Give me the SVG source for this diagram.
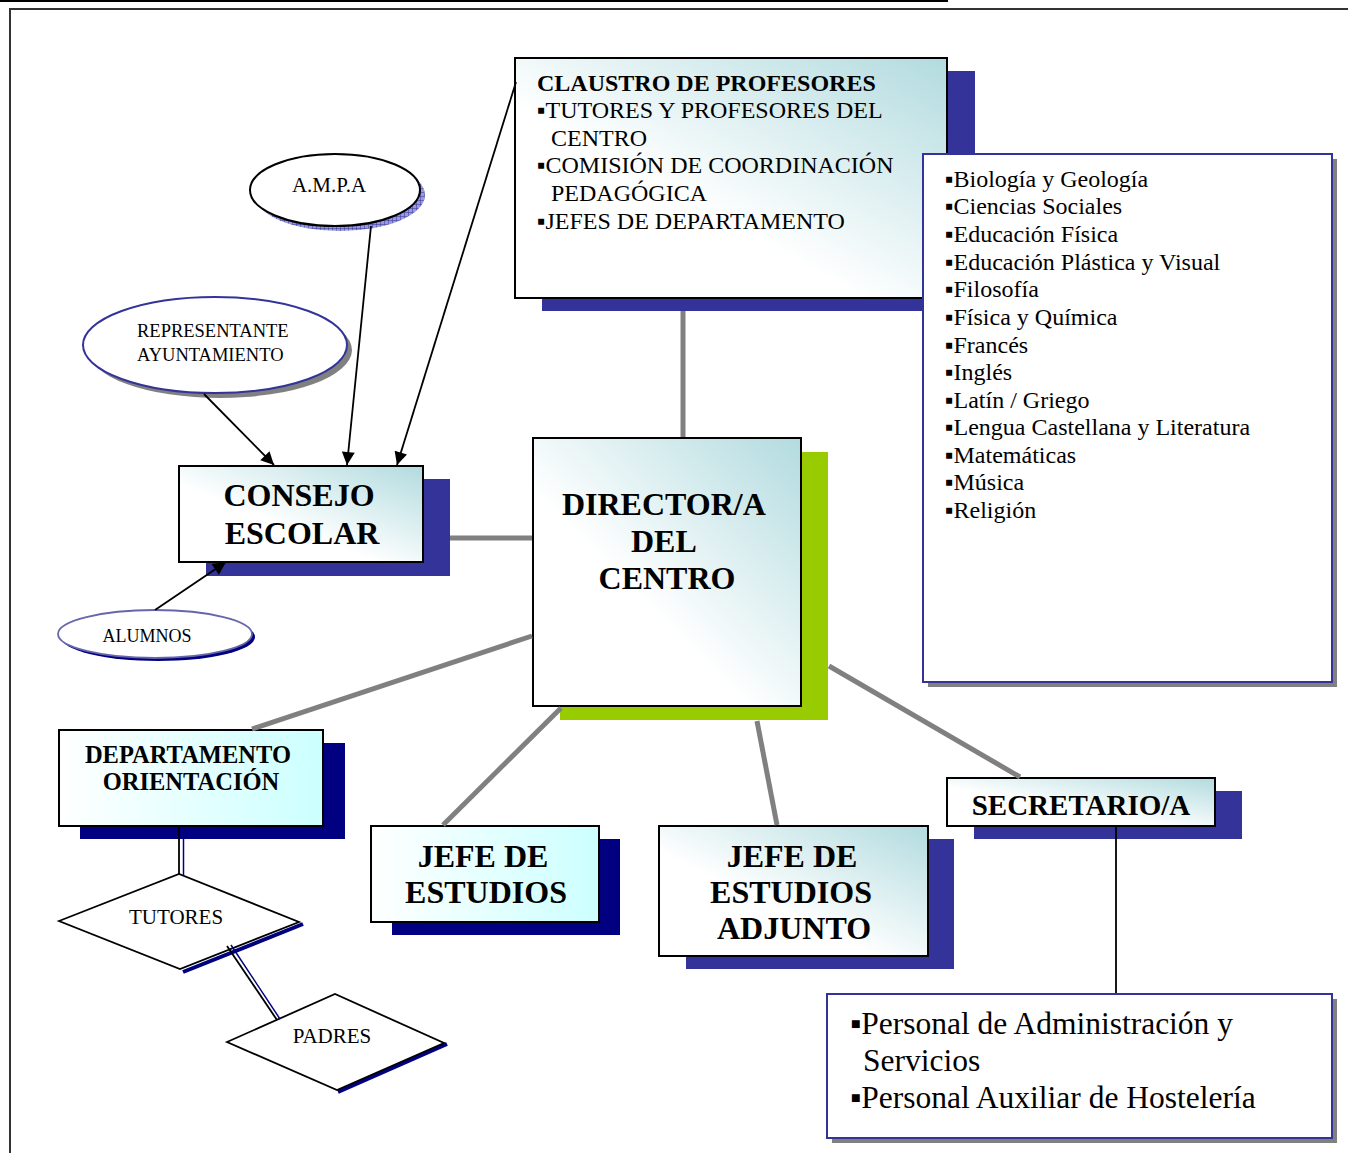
<svg xmlns="http://www.w3.org/2000/svg" width="1348" height="1153" viewBox="0 0 1348 1153">
<defs>
<style>
.t{font-family:"Liberation Serif","Times New Roman",serif;fill:#000}
.b{font-weight:bold}
.box{stroke:#000;stroke-width:2}
.conn{stroke:#808080;stroke-width:5;fill:none}
.arr{stroke:#000;stroke-width:1.8;fill:none;marker-end:url(#ah)}
.thin{stroke:#000;stroke-width:1.8;fill:none}
.blu{stroke:#000080;stroke-width:1.5;fill:none}
</style>
<linearGradient id="gTeal" x1="0" y1="1" x2="1" y2="0">
<stop offset="0" stop-color="#ffffff"/>
<stop offset="0.4" stop-color="#ffffff"/>
<stop offset="1" stop-color="#b2dbdf"/>
</linearGradient>
<linearGradient id="gCyan" x1="0" y1="0" x2="1" y2="0">
<stop offset="0" stop-color="#ffffff"/>
<stop offset="1" stop-color="#ccffff"/>
</linearGradient>
<pattern id="hatch" width="4" height="4" patternUnits="userSpaceOnUse">
<rect width="4" height="4" fill="#9999dd"/>
<path d="M0 0H4M0 0V4" stroke="#333399" stroke-width="1"/>
</pattern>
<marker id="ah" viewBox="0 0 10 10" refX="10" refY="5" markerWidth="15" markerHeight="13" markerUnits="userSpaceOnUse" orient="auto">
<path d="M0 0L10 5L0 10z" fill="#000"/>
</marker>
</defs>

<g id="frame">
<line x1="0" y1="1" x2="948" y2="1" stroke="#000" stroke-width="2"/>
<polyline points="10,1153 10,9 1348,9" fill="none" stroke="#333" stroke-width="2"/>
</g>

<g id="claustro">
<rect x="542" y="71" width="433" height="240" fill="#333399"/>
<rect class="box" x="515" y="58" width="432" height="240" fill="url(#gTeal)"/>
<text class="t b" x="537" y="91" font-size="24">CLAUSTRO DE PROFESORES</text>
<text class="t" font-size="24">
<tspan x="537" y="118">▪TUTORES Y PROFESORES DEL</tspan>
<tspan x="551" y="146">CENTRO</tspan>
<tspan x="537" y="173">▪COMISIÓN DE COORDINACIÓN</tspan>
<tspan x="551" y="201">PEDAGÓGICA</tspan>
<tspan x="537" y="229">▪JEFES DE DEPARTAMENTO</tspan>
</text>
</g>

<g id="asignaturas">
<rect x="928" y="159" width="409" height="528" fill="#808080"/>
<rect x="923" y="154" width="409" height="528" fill="#fff" stroke="#333399" stroke-width="2"/>
<text class="t" font-size="24">
<tspan x="945" y="187">▪Biología y Geología</tspan>
<tspan x="945" y="214">▪Ciencias Sociales</tspan>
<tspan x="945" y="242">▪Educación Física</tspan>
<tspan x="945" y="270">▪Educación Plástica y Visual</tspan>
<tspan x="945" y="297">▪Filosofía</tspan>
<tspan x="945" y="325">▪Física y Química</tspan>
<tspan x="945" y="353">▪Francés</tspan>
<tspan x="945" y="380">▪Inglés</tspan>
<tspan x="945" y="408">▪Latín / Griego</tspan>
<tspan x="945" y="435">▪Lengua Castellana y Literatura</tspan>
<tspan x="945" y="463">▪Matemáticas</tspan>
<tspan x="945" y="490">▪Música</tspan>
<tspan x="945" y="518">▪Religión</tspan>
</text>
</g>

<g id="ampa">
<ellipse cx="340" cy="195" rx="85" ry="36" fill="url(#hatch)"/>
<ellipse cx="335" cy="190" rx="85" ry="36" fill="#fff" stroke="#000" stroke-width="2"/>
<text class="t" x="329" y="192" font-size="21" text-anchor="middle">A.M.P.A</text>
</g>

<g id="representante">
<ellipse cx="220" cy="350" rx="132" ry="48" fill="#808080"/>
<ellipse cx="215" cy="345" rx="132" ry="48" fill="#fff" stroke="#333399" stroke-width="2"/>
<text class="t" font-size="18.5">
<tspan x="137" y="337">REPRESENTANTE</tspan>
<tspan x="137" y="361">AYUNTAMIENTO</tspan>
</text>
</g>

<g id="consejo">
<rect x="206" y="479" width="244" height="97" fill="#333399"/>
<rect class="box" x="179" y="466" width="244" height="96" fill="url(#gTeal)"/>
<text class="t b" font-size="32" text-anchor="middle">
<tspan x="303" y="506">CONSEJO</tspan>
<tspan x="302" y="544">ESCOLAR</tspan>
</text>
</g>

<g id="alumnos">
<ellipse cx="158" cy="637" rx="97" ry="24" fill="#000080"/>
<ellipse cx="155" cy="634" rx="97" ry="24" fill="#fff" stroke="#6666aa" stroke-width="1.8"/>
<text class="t" x="147" y="642" font-size="18" text-anchor="middle">ALUMNOS</text>
</g>

<g id="director">
<rect x="560" y="452" width="268" height="268" fill="#99cc00"/>
<rect class="box" x="533" y="438" width="268" height="268" fill="url(#gTeal)"/>
<text class="t b" font-size="32" text-anchor="middle">
<tspan x="667" y="515">DIRECTOR/A</tspan>
<tspan x="667" y="552">DEL</tspan>
<tspan x="667" y="589">CENTRO</tspan>
</text>
</g>

<g id="departamento">
<rect x="80" y="743" width="265" height="96" fill="#000080"/>
<rect class="box" x="59" y="730" width="264" height="96" fill="url(#gCyan)"/>
<text class="t b" font-size="24.5" text-anchor="middle">
<tspan x="191" y="763">DEPARTAMENTO</tspan>
<tspan x="191" y="790">ORIENTACIÓN</tspan>
</text>
</g>

<g id="tutores">
<polyline points="303,924 183,972" fill="none" stroke="#000080" stroke-width="4"/>
<polygon points="59,921 179,874 299,922 180,969" fill="#fff" stroke="#000" stroke-width="1.8"/>
<text class="t" x="176" y="924" font-size="21" text-anchor="middle">TUTORES</text>
</g>

<g id="padres">
<polyline points="447,1044 338,1092" fill="none" stroke="#000080" stroke-width="4"/>
<polygon points="227,1042 335,994 444,1043 337,1090" fill="#fff" stroke="#000" stroke-width="1.8"/>
<text class="t" x="332" y="1043" font-size="21" text-anchor="middle">PADRES</text>
</g>

<g id="jefe">
<rect x="392" y="839" width="228" height="96" fill="#000080"/>
<rect class="box" x="371" y="826" width="228" height="96" fill="url(#gCyan)"/>
<text class="t b" font-size="32" text-anchor="middle">
<tspan x="487" y="867">JEFE DE</tspan>
<tspan x="486" y="903">ESTUDIOS</tspan>
</text>
</g>

<g id="adjunto">
<rect x="686" y="839" width="268" height="130" fill="#333399"/>
<rect class="box" x="659" y="826" width="269" height="130" fill="url(#gTeal)"/>
<text class="t b" font-size="32" text-anchor="middle">
<tspan x="796" y="867">JEFE DE</tspan>
<tspan x="795" y="903">ESTUDIOS</tspan>
<tspan x="794" y="939">ADJUNTO</tspan>
</text>
</g>

<g id="secretario">
<rect x="974" y="791" width="268" height="48" fill="#333399"/>
<rect class="box" x="947" y="778" width="268" height="48" fill="url(#gTeal)"/>
<text class="t b" x="1081" y="815" font-size="29" text-anchor="middle">SECRETARIO/A</text>
</g>

<g id="personal">
<rect x="832" y="999" width="505" height="144" fill="#808080"/>
<rect x="827" y="994" width="505" height="144" fill="#fff" stroke="#333399" stroke-width="2"/>
<text class="t" font-size="31.5">
<tspan x="850" y="1034">▪Personal de Administración y</tspan>
<tspan x="863" y="1071">Servicios</tspan>
<tspan x="850" y="1108">▪Personal Auxiliar de Hostelería</tspan>
</text>
</g>

<g id="connectors">
<line class="conn" x1="683" y1="311" x2="683" y2="437"/>
<line class="conn" x1="450" y1="538" x2="532" y2="538"/>
<line class="conn" x1="532" y1="636" x2="252" y2="729"/>
<line class="conn" x1="561" y1="708" x2="443" y2="825"/>
<line class="conn" x1="757" y1="721" x2="777" y2="825"/>
<line class="conn" x1="829" y1="666" x2="1020" y2="777"/>
<line class="arr" x1="371" y1="226" x2="347" y2="465"/>
<line class="arr" x1="204" y1="394" x2="274" y2="465"/>
<line class="arr" x1="516" y1="82" x2="397" y2="465"/>
<line class="arr" x1="155" y1="610" x2="226" y2="562"/>
<line class="thin" x1="1116" y1="827" x2="1116" y2="993"/>
<line class="thin" x1="179" y1="827" x2="179" y2="874"/>
<line class="blu" x1="183.5" y1="827" x2="183.5" y2="875"/>
<line class="thin" x1="227" y1="946" x2="277" y2="1020"/>
<line class="blu" x1="231" y1="945" x2="280" y2="1019"/>
</g>
</svg>
